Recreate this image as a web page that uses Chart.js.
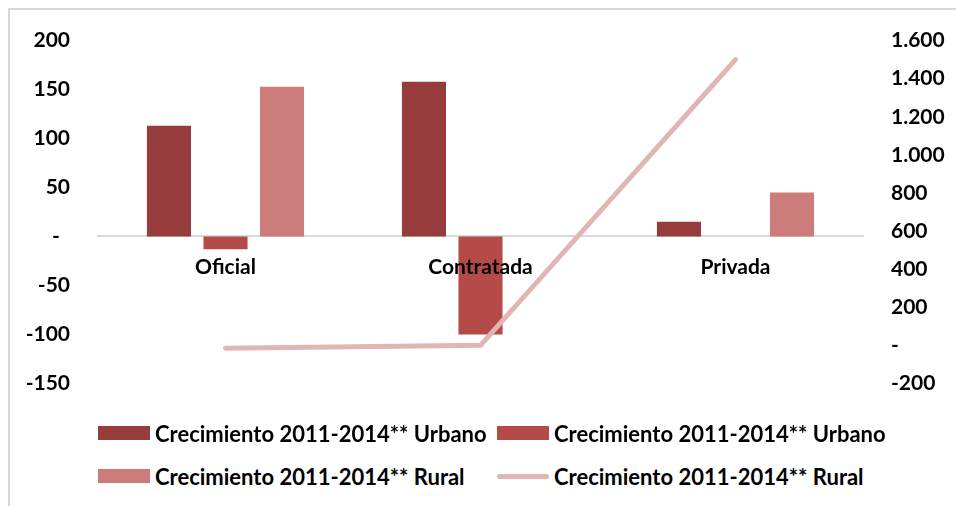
<!DOCTYPE html>
<html>
<head>
<meta charset="utf-8">
<script src="https://cdn.jsdelivr.net/npm/chart.js@4.4.1/dist/chart.umd.min.js"></script>
<style>
  body { margin: 0; background: #fff; width: 956px; height: 506px; overflow: hidden; position: relative; font-family: Lato, "Open Sans", sans-serif; }
  .frame { position: absolute; left: 8px; top: 8px; right: 0; bottom: 0; border-left: 2px solid #d9d9d9; border-top: 2px solid #d9d9d9; }
  #chart { position: absolute; left: 0; top: 0; }
  .legend-item { position: absolute; height: 26px; display: flex; align-items: center; font-weight: bold; font-size: 22px; color: #000; white-space: nowrap; }
  .legend-item .mark { width: 52px; margin-right: 5px; }
</style>
</head>
<body>
<div class="frame"></div>
<canvas id="chart" width="956" height="424"></canvas>
<div id="legend"></div>
<script>
const categories = ["Oficial", "Contratada", "Privada"];
const urbanoDark = [113, 158, 15];
const urbanoMid = [-13, -100, 0];
const ruralBars = [153, 0, 45];
const ruralLine = [-15, 0, 1500];
const seriesLabels = [
  "Crecimiento 2011-2014** Urbano",
  "Crecimiento 2011-2014** Urbano",
  "Crecimiento 2011-2014** Rural",
  "Crecimiento 2011-2014** Rural"
];

// thousands with dots, zero as a dash
const fmt = v => v === 0 ? "-" : String(v).replace(/\B(?=(\d{3})+(?!\d))/g, ".");
const tickFont = { family: "Lato, 'Open Sans', sans-serif", size: 21, weight: "bold" };

const chart = new Chart(document.getElementById("chart"), {
  data: {
    labels: categories,
    datasets: [
      { type: "bar", label: seriesLabels[0], data: urbanoDark, backgroundColor: "#963C3C", yAxisID: "y", order: 1 },
      { type: "bar", label: seriesLabels[1], data: urbanoMid, backgroundColor: "#B54B48", yAxisID: "y", order: 1 },
      { type: "bar", label: seriesLabels[2], data: ruralBars, backgroundColor: "#CB7C7B", yAxisID: "y", order: 1 },
      { type: "line", label: seriesLabels[3], data: ruralLine, borderColor: "#E0B6B5", borderWidth: 5,
        borderCapStyle: "round", pointRadius: 0, tension: 0, yAxisID: "y1", order: 0 }
    ]
  },
  options: {
    responsive: false,
    animation: false,
    layout: { padding: { top: 38, bottom: 19, left: 0, right: 0 } },
    datasets: { bar: { categoryPercentage: 0.665, barPercentage: 0.78 } },
    plugins: { legend: { display: false }, tooltip: { enabled: false } },
    scales: {
      x: {
        position: { y: 0 },
        grid: { display: false, drawTicks: false },
        border: { display: true, color: "#d9d9d9", width: 2 },
        ticks: { font: tickFont, color: "#000", padding: 18, z: 1 }
      },
      y: {
        position: "left",
        min: -150, max: 200,
        grid: { display: false, drawTicks: false },
        border: { display: false },
        ticks: { stepSize: 50, font: tickFont, color: "#000", padding: 28,
          callback: v => v === 0 ? "-  " : fmt(v) },
        afterFit: s => { s.width = 98; }
      },
      y1: {
        position: "right",
        min: -200, max: 1600,
        grid: { display: false, drawTicks: false },
        border: { display: false },
        ticks: { stepSize: 200, font: tickFont, color: "#000", padding: 28, callback: v => fmt(v) },
        afterFit: s => { s.width = 93; }
      }
    }
  }
});

// two-column legend under the plot
const legend = document.getElementById("legend");
const slots = [[98, 420], [497, 420], [98, 463], [497, 463]];
chart.data.datasets.forEach((ds, i) => {
  const item = document.createElement("div");
  item.className = "legend-item";
  item.style.left = slots[i][0] + "px";
  item.style.top = slots[i][1] + "px";
  const mark = document.createElement("span");
  mark.className = "mark";
  if (ds.type === "line") {
    mark.style.height = "5px";
    mark.style.borderRadius = "3px";
    mark.style.background = ds.borderColor;
  } else {
    mark.style.height = "14px";
    mark.style.background = ds.backgroundColor;
  }
  item.appendChild(mark);
  item.appendChild(document.createTextNode(ds.label));
  legend.appendChild(item);
});
</script>
</body>
</html>
